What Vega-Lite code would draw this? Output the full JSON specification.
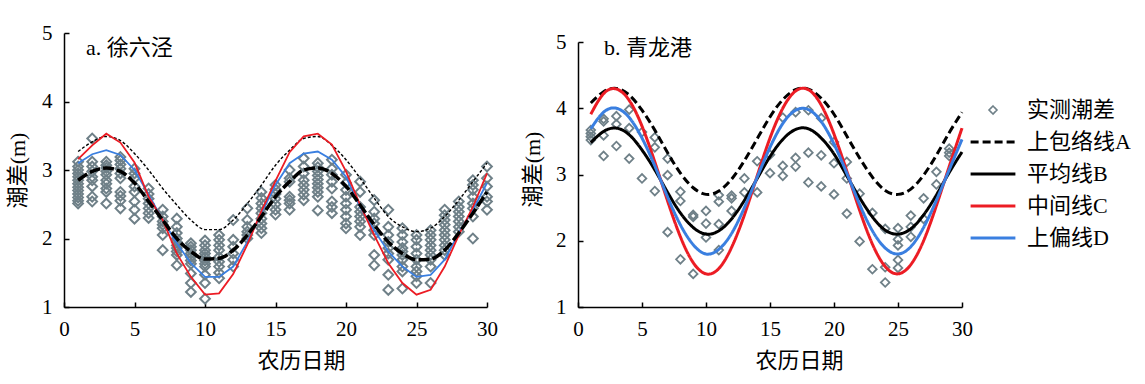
{
"$schema": "https://vega.github.io/schema/vega-lite/v6.json",
"background": "white",
"padding": {"left": 6, "top": 21, "right": 0, "bottom": 0},
"config": {
  "view": {"stroke": null},
  "axis": {"grid": false, "domainColor": "black", "tickColor": "black", "domainWidth": 1.5, "tickWidth": 1.5, "tickSize": -5,
    "labelFont": "Liberation Serif, Times New Roman, serif", "labelFontSize": 21, "labelColor": "black", "labelFlush": false,
    "titleFont": "Liberation Serif, Noto Sans CJK SC", "titleFontSize": 22, "titleFontWeight": "normal", "titleColor": "black"},
  "title": {"font": "Liberation Serif, Noto Sans CJK SC", "fontSize": 22, "fontWeight": "normal", "color": "black", "anchor": "start", "baseline": "middle", "frame": "group"}
},
"datasets": {
"ptsA": [
{"d":1,"v":3.12},{"d":1,"v":3.05},{"d":1,"v":3.0},{"d":1,"v":2.95},{"d":1,"v":2.9},{"d":1,"v":2.85},{"d":1,"v":2.8},{"d":1,"v":2.75},{"d":1,"v":2.7},{"d":1,"v":2.65},{"d":1,"v":2.6},{"d":1,"v":2.55},{"d":1,"v":2.51},
{"d":2,"v":3.46},{"d":2,"v":3.12},{"d":2,"v":3.05},{"d":2,"v":2.98},{"d":2,"v":2.9},{"d":2,"v":2.85},{"d":2,"v":2.76},{"d":2,"v":2.61},{"d":2,"v":2.54},
{"d":3,"v":3.12},{"d":3,"v":3.07},{"d":3,"v":3.03},{"d":3,"v":2.98},{"d":3,"v":2.93},{"d":3,"v":2.85},{"d":3,"v":2.8},{"d":3,"v":2.73},{"d":3,"v":2.68},{"d":3,"v":2.51},
{"d":4,"v":3.19},{"d":4,"v":3.14},{"d":4,"v":3.08},{"d":4,"v":3.02},{"d":4,"v":2.95},{"d":4,"v":2.88},{"d":4,"v":2.68},{"d":4,"v":2.62},{"d":4,"v":2.55},{"d":4,"v":2.44},
{"d":5,"v":3.02},{"d":5,"v":2.95},{"d":5,"v":2.88},{"d":5,"v":2.76},{"d":5,"v":2.68},{"d":5,"v":2.54},{"d":5,"v":2.42},{"d":5,"v":2.29},
{"d":6,"v":2.73},{"d":6,"v":2.65},{"d":6,"v":2.58},{"d":6,"v":2.51},{"d":6,"v":2.44},{"d":6,"v":2.37},{"d":6,"v":2.3},
{"d":7,"v":2.42},{"d":7,"v":2.32},{"d":7,"v":2.25},{"d":7,"v":2.2},{"d":7,"v":2.15},{"d":7,"v":2.05},{"d":7,"v":1.83},
{"d":8,"v":2.29},{"d":8,"v":2.17},{"d":8,"v":2.08},{"d":8,"v":2.0},{"d":8,"v":1.95},{"d":8,"v":1.9},{"d":8,"v":1.86},{"d":8,"v":1.81},{"d":8,"v":1.76},{"d":8,"v":1.61},
{"d":9,"v":1.93},{"d":9,"v":1.88},{"d":9,"v":1.83},{"d":9,"v":1.78},{"d":9,"v":1.73},{"d":9,"v":1.68},{"d":9,"v":1.63},{"d":9,"v":1.49},{"d":9,"v":1.35},{"d":9,"v":1.22},
{"d":10,"v":1.97},{"d":10,"v":1.9},{"d":10,"v":1.83},{"d":10,"v":1.78},{"d":10,"v":1.73},{"d":10,"v":1.68},{"d":10,"v":1.63},{"d":10,"v":1.59},{"d":10,"v":1.47},{"d":10,"v":1.35},{"d":10,"v":1.12},
{"d":11,"v":2.05},{"d":11,"v":1.98},{"d":11,"v":1.9},{"d":11,"v":1.83},{"d":11,"v":1.73},{"d":11,"v":1.66},{"d":11,"v":1.59},{"d":11,"v":1.5},{"d":11,"v":1.42},
{"d":12,"v":2.27},{"d":12,"v":1.98},{"d":12,"v":1.88},{"d":12,"v":1.78},{"d":12,"v":1.69},{"d":12,"v":1.59},
{"d":13,"v":2.44},{"d":13,"v":2.27},{"d":13,"v":2.17},{"d":13,"v":2.1},{"d":13,"v":2.05},{"d":13,"v":2.0},
{"d":14,"v":2.68},{"d":14,"v":2.59},{"d":14,"v":2.51},{"d":14,"v":2.44},{"d":14,"v":2.37},{"d":14,"v":2.29},{"d":14,"v":2.22},{"d":14,"v":2.15},{"d":14,"v":2.08},
{"d":15,"v":2.78},{"d":15,"v":2.72},{"d":15,"v":2.65},{"d":15,"v":2.58},{"d":15,"v":2.5},{"d":15,"v":2.42},{"d":15,"v":2.35},
{"d":16,"v":3.0},{"d":16,"v":2.88},{"d":16,"v":2.83},{"d":16,"v":2.61},{"d":16,"v":2.56},{"d":16,"v":2.51},{"d":16,"v":2.42},
{"d":17,"v":3.17},{"d":17,"v":3.05},{"d":17,"v":2.95},{"d":17,"v":2.85},{"d":17,"v":2.78},{"d":17,"v":2.71},{"d":17,"v":2.64},{"d":17,"v":2.56},
{"d":18,"v":3.1},{"d":18,"v":3.04},{"d":18,"v":2.98},{"d":18,"v":2.92},{"d":18,"v":2.86},{"d":18,"v":2.8},{"d":18,"v":2.74},{"d":18,"v":2.68},{"d":18,"v":2.61},{"d":18,"v":2.41},
{"d":19,"v":3.15},{"d":19,"v":3.02},{"d":19,"v":2.93},{"d":19,"v":2.83},{"d":19,"v":2.73},{"d":19,"v":2.54},{"d":19,"v":2.46},{"d":19,"v":2.37},
{"d":20,"v":2.93},{"d":20,"v":2.81},{"d":20,"v":2.71},{"d":20,"v":2.61},{"d":20,"v":2.51},{"d":20,"v":2.42},{"d":20,"v":2.32},{"d":20,"v":2.22},{"d":20,"v":2.15},
{"d":21,"v":2.83},{"d":21,"v":2.68},{"d":21,"v":2.46},{"d":21,"v":2.39},{"d":21,"v":2.32},{"d":21,"v":2.25},{"d":21,"v":2.17},{"d":21,"v":2.05},
{"d":22,"v":2.56},{"d":22,"v":2.39},{"d":22,"v":2.29},{"d":22,"v":2.22},{"d":22,"v":2.12},{"d":22,"v":2.05},{"d":22,"v":1.76},{"d":22,"v":1.61},
{"d":23,"v":2.42},{"d":23,"v":2.17},{"d":23,"v":2.05},{"d":23,"v":1.95},{"d":23,"v":1.86},{"d":23,"v":1.78},{"d":23,"v":1.69},{"d":23,"v":1.47},{"d":23,"v":1.25},
{"d":24,"v":2.15},{"d":24,"v":2.05},{"d":24,"v":1.95},{"d":24,"v":1.86},{"d":24,"v":1.81},{"d":24,"v":1.76},{"d":24,"v":1.69},{"d":24,"v":1.59},{"d":24,"v":1.52},{"d":24,"v":1.27},
{"d":25,"v":2.05},{"d":25,"v":1.98},{"d":25,"v":1.88},{"d":25,"v":1.78},{"d":25,"v":1.69},{"d":25,"v":1.59},{"d":25,"v":1.52},{"d":25,"v":1.45},{"d":25,"v":1.35},
{"d":26,"v":2.12},{"d":26,"v":2.05},{"d":26,"v":1.98},{"d":26,"v":1.9},{"d":26,"v":1.83},{"d":26,"v":1.76},{"d":26,"v":1.69},{"d":26,"v":1.59},{"d":26,"v":1.35},
{"d":27,"v":2.42},{"d":27,"v":2.34},{"d":27,"v":2.27},{"d":27,"v":2.2},{"d":27,"v":2.12},{"d":27,"v":2.05},{"d":27,"v":1.98},{"d":27,"v":1.9},{"d":27,"v":1.83},{"d":27,"v":1.76},
{"d":28,"v":2.54},{"d":28,"v":2.46},{"d":28,"v":2.39},{"d":28,"v":2.32},{"d":28,"v":2.25},{"d":28,"v":2.17},{"d":28,"v":2.1},
{"d":29,"v":2.85},{"d":29,"v":2.78},{"d":29,"v":2.71},{"d":29,"v":2.61},{"d":29,"v":2.51},{"d":29,"v":2.44},{"d":29,"v":2.32},{"d":29,"v":2.0},
{"d":30,"v":3.05},{"d":30,"v":2.88},{"d":30,"v":2.76},{"d":30,"v":2.61},{"d":30,"v":2.54},{"d":30,"v":2.42}
],
"curvesA": [
{"d":1,"A":3.27,"B":2.85,"C":3.16,"D":3.10},
{"d":2,"A":3.41,"B":2.98,"C":3.36,"D":3.23},
{"d":3,"A":3.49,"B":3.03,"C":3.53,"D":3.29},
{"d":4,"A":3.43,"B":2.98,"C":3.40,"D":3.22},
{"d":5,"A":3.24,"B":2.81,"C":3.11,"D":3.00},
{"d":6,"A":3.00,"B":2.54,"C":2.61,"D":2.64},
{"d":7,"A":2.73,"B":2.27,"C":2.27,"D":2.27},
{"d":8,"A":2.49,"B":2.00,"C":1.78,"D":1.93},
{"d":9,"A":2.27,"B":1.81,"C":1.44,"D":1.64},
{"d":10,"A":2.13,"B":1.70,"C":1.18,"D":1.44},
{"d":11,"A":2.13,"B":1.71,"C":1.20,"D":1.44},
{"d":12,"A":2.27,"B":1.83,"C":1.48,"D":1.59},
{"d":13,"A":2.51,"B":2.05,"C":1.91,"D":1.95},
{"d":14,"A":2.78,"B":2.32,"C":2.40,"D":2.37},
{"d":15,"A":3.07,"B":2.61,"C":2.84,"D":2.78},
{"d":16,"A":3.29,"B":2.83,"C":3.26,"D":3.10},
{"d":17,"A":3.46,"B":3.00,"C":3.49,"D":3.24},
{"d":18,"A":3.49,"B":3.03,"C":3.53,"D":3.27},
{"d":19,"A":3.36,"B":2.95,"C":3.37,"D":3.15},
{"d":20,"A":3.15,"B":2.76,"C":2.98,"D":2.90},
{"d":21,"A":2.88,"B":2.49,"C":2.49,"D":2.46},
{"d":22,"A":2.59,"B":2.20,"C":2.05,"D":2.12},
{"d":23,"A":2.32,"B":1.95,"C":1.64,"D":1.81},
{"d":24,"A":2.17,"B":1.78,"C":1.35,"D":1.59},
{"d":25,"A":2.10,"B":1.69,"C":1.18,"D":1.44},
{"d":26,"A":2.15,"B":1.70,"C":1.25,"D":1.47},
{"d":27,"A":2.32,"B":1.83,"C":1.59,"D":1.69},
{"d":28,"A":2.56,"B":2.08,"C":2.05,"D":2.08},
{"d":29,"A":2.83,"B":2.37,"C":2.46,"D":2.42},
{"d":30,"A":3.10,"B":2.68,"C":2.95,"D":2.81}
],
"ptsB": [
{"d":1,"v":3.67,"s":"实测潮差"},{"d":1,"v":3.62,"s":"实测潮差"},{"d":1,"v":3.57,"s":"实测潮差"},{"d":1,"v":3.52,"s":"实测潮差"},
{"d":2,"v":3.84,"s":"实测潮差"},{"d":2,"v":3.8,"s":"实测潮差"},{"d":2,"v":3.59,"s":"实测潮差"},{"d":2,"v":3.28,"s":"实测潮差"},
{"d":3,"v":3.88,"s":"实测潮差"},{"d":3,"v":3.76,"s":"实测潮差"},{"d":3,"v":3.43,"s":"实测潮差"},
{"d":4,"v":3.98,"s":"实测潮差"},{"d":4,"v":3.7,"s":"实测潮差"},{"d":4,"v":3.24,"s":"实测潮差"},
{"d":5,"v":3.64,"s":"实测潮差"},{"d":5,"v":2.94,"s":"实测潮差"},
{"d":6,"v":3.56,"s":"实测潮差"},{"d":6,"v":3.41,"s":"实测潮差"},{"d":6,"v":2.75,"s":"实测潮差"},
{"d":7,"v":3.24,"s":"实测潮差"},{"d":7,"v":2.99,"s":"实测潮差"},{"d":7,"v":2.13,"s":"实测潮差"},
{"d":8,"v":2.74,"s":"实测潮差"},{"d":8,"v":2.6,"s":"实测潮差"},{"d":8,"v":1.72,"s":"实测潮差"},
{"d":9,"v":2.39,"s":"实测潮差"},{"d":9,"v":2.36,"s":"实测潮差"},{"d":9,"v":1.5,"s":"实测潮差"},
{"d":10,"v":2.45,"s":"实测潮差"},{"d":10,"v":2.26,"s":"实测潮差"},{"d":10,"v":2.05,"s":"实测潮差"},
{"d":11,"v":2.69,"s":"实测潮差"},{"d":11,"v":2.59,"s":"实测潮差"},{"d":11,"v":2.25,"s":"实测潮差"},{"d":11,"v":1.86,"s":"实测潮差"},
{"d":12,"v":2.68,"s":"实测潮差"},{"d":12,"v":2.64,"s":"实测潮差"},{"d":12,"v":2.45,"s":"实测潮差"},
{"d":13,"v":2.94,"s":"实测潮差"},{"d":13,"v":2.73,"s":"实测潮差"},
{"d":14,"v":3.2,"s":"实测潮差"},{"d":14,"v":2.73,"s":"实测潮差"},
{"d":15,"v":3.3,"s":"实测潮差"},{"d":15,"v":3.02,"s":"实测潮差"},
{"d":16,"v":3.86,"s":"实测潮差"},{"d":16,"v":3.13,"s":"实测潮差"},{"d":16,"v":2.98,"s":"实测潮差"},
{"d":17,"v":3.94,"s":"实测潮差"},{"d":17,"v":3.25,"s":"实测潮差"},{"d":17,"v":3.12,"s":"实测潮差"},
{"d":18,"v":3.97,"s":"实测潮差"},{"d":18,"v":3.33,"s":"实测潮差"},{"d":18,"v":2.88,"s":"实测潮差"},
{"d":19,"v":3.85,"s":"实测潮差"},{"d":19,"v":3.29,"s":"实测潮差"},{"d":19,"v":2.82,"s":"实测潮差"},
{"d":20,"v":3.49,"s":"实测潮差"},{"d":20,"v":3.17,"s":"实测潮差"},{"d":20,"v":2.7,"s":"实测潮差"},
{"d":21,"v":3.19,"s":"实测潮差"},{"d":21,"v":2.94,"s":"实测潮差"},{"d":21,"v":2.41,"s":"实测潮差"},
{"d":22,"v":2.71,"s":"实测潮差"},{"d":22,"v":1.99,"s":"实测潮差"},
{"d":23,"v":2.42,"s":"实测潮差"},{"d":23,"v":1.57,"s":"实测潮差"},
{"d":24,"v":2.18,"s":"实测潮差"},{"d":24,"v":1.6,"s":"实测潮差"},{"d":24,"v":1.37,"s":"实测潮差"},
{"d":25,"v":2.19,"s":"实测潮差"},{"d":25,"v":2.02,"s":"实测潮差"},{"d":25,"v":1.93,"s":"实测潮差"},{"d":25,"v":1.71,"s":"实测潮差"},{"d":25,"v":1.59,"s":"实测潮差"},
{"d":26,"v":2.38,"s":"实测潮差"},{"d":26,"v":2.21,"s":"实测潮差"},{"d":26,"v":2.06,"s":"实测潮差"},
{"d":27,"v":2.64,"s":"实测潮差"},{"d":27,"v":2.33,"s":"实测潮差"},
{"d":28,"v":3.04,"s":"实测潮差"},{"d":28,"v":2.85,"s":"实测潮差"},
{"d":29,"v":3.39,"s":"实测潮差"},{"d":29,"v":3.33,"s":"实测潮差"},{"d":29,"v":3.28,"s":"实测潮差"}
],
"curvesB": [
{"d":1,"上包络线A":4.08,"平均线B":3.48,"中间线C":3.91,"上偏线D":3.69},
{"d":2,"上包络线A":4.25,"平均线B":3.65,"中间线C":4.22,"上偏线D":3.94},
{"d":3,"上包络线A":4.30,"平均线B":3.70,"中间线C":4.29,"上偏线D":4.00},
{"d":4,"上包络线A":4.20,"平均线B":3.60,"中间线C":4.12,"上偏线D":3.86},
{"d":5,"上包络线A":3.97,"平均线B":3.37,"中间线C":3.73,"上偏线D":3.55},
{"d":6,"上包络线A":3.67,"平均线B":3.07,"中间线C":3.19,"上偏线D":3.13},
{"d":7,"上包络线A":3.33,"平均线B":2.73,"中间线C":2.60,"上偏线D":2.66},
{"d":8,"上包络线A":3.02,"平均线B":2.42,"中间线C":2.06,"上偏线D":2.24},
{"d":9,"上包络线A":2.80,"平均线B":2.20,"中间线C":1.67,"上偏线D":1.94},
{"d":10,"上包络线A":2.70,"平均线B":2.10,"中间线C":1.50,"上偏线D":1.80},
{"d":11,"上包络线A":2.75,"平均线B":2.15,"中间线C":1.58,"上偏线D":1.87},
{"d":12,"上包络线A":2.93,"平均线B":2.33,"中间线C":1.90,"上偏线D":2.11},
{"d":13,"上包络线A":3.21,"平均线B":2.61,"中间线C":2.39,"上偏线D":2.50},
{"d":14,"上包络线A":3.54,"平均线B":2.94,"中间线C":2.98,"上偏线D":2.96},
{"d":15,"上包络线A":3.87,"平均线B":3.27,"中间线C":3.55,"上偏线D":3.41},
{"d":16,"上包络线A":4.13,"平均线B":3.53,"中间线C":4.00,"上偏线D":3.77},
{"d":17,"上包络线A":4.28,"平均线B":3.68,"中间线C":4.26,"上偏线D":3.97},
{"d":18,"上包络线A":4.29,"平均线B":3.69,"中间线C":4.28,"上偏线D":3.98},
{"d":19,"上包络线A":4.15,"平均线B":3.55,"中间线C":4.05,"上偏线D":3.80},
{"d":20,"上包络线A":3.91,"平均线B":3.31,"中间线C":3.61,"上偏线D":3.46},
{"d":21,"上包络线A":3.58,"平均线B":2.98,"中间线C":3.05,"上偏线D":3.02},
{"d":22,"上包络线A":3.25,"平均线B":2.65,"中间线C":2.46,"上偏线D":2.55},
{"d":23,"上包络线A":2.96,"平均线B":2.36,"中间线C":1.95,"上偏线D":2.15},
{"d":24,"上包络线A":2.76,"平均线B":2.16,"中间线C":1.61,"上偏线D":1.89},
{"d":25,"上包络线A":2.70,"平均线B":2.10,"中间线C":1.50,"上偏线D":1.80},
{"d":26,"上包络线A":2.78,"平均线B":2.18,"中间线C":1.64,"上偏线D":1.91},
{"d":27,"上包络线A":2.99,"平均线B":2.39,"中间线C":2.00,"上偏线D":2.20},
{"d":28,"上包络线A":3.29,"平均线B":2.69,"中间线C":2.53,"上偏线D":2.61},
{"d":29,"上包络线A":3.63,"平均线B":3.03,"中间线C":3.12,"上偏线D":3.07},
{"d":30,"上包络线A":3.94,"平均线B":3.34,"中间线C":3.70,"上偏线D":3.53}
]
},
"spacing": 23,
"hconcat": [
{
  "spacing": 0,
  "vconcat": [
    {"width": 423, "height": 1, "data": {"values": []}, "mark": {"type": "point", "opacity": 0}},
    {
      "width": 423, "height": 274,
      "title": {"text": "a. 徐六泾", "offset": -38, "dx": 22},
      "encoding": {
        "x": {"field": "d", "type": "quantitative", "scale": {"domain": [0, 30], "nice": false}, "axis": {"values": [0,5,10,15,20,25,30], "title": "农历日期", "labelPadding": 16, "titleX": 237, "titleY": 53, "titleBaseline": "middle"}},
        "y": {"field": "v", "type": "quantitative", "scale": {"domain": [1, 5], "nice": false, "zero": false}, "axis": {"values": [1,2,3,4,5], "title": "潮差(m)", "labelPadding": 17, "titleX": -47, "titleY": 137, "titleBaseline": "middle", "titleAlign": "center"}}
      },
      "layer": [
        {"data": {"name": "ptsA"}, "mark": {"type": "point", "shape": "diamond", "filled": false, "size": 95, "strokeWidth": 2, "color": "#6f8088", "opacity": 1}},
        {"data": {"name": "curvesA"}, "mark": {"type": "line", "color": "black", "strokeWidth": 1.4, "strokeDash": [3, 2], "interpolate": "monotone"}, "encoding": {"y": {"field": "A", "type": "quantitative"}}},
        {"data": {"name": "curvesA"}, "mark": {"type": "line", "color": "#3a7fe0", "strokeWidth": 1.8}, "encoding": {"y": {"field": "D", "type": "quantitative"}}},
        {"data": {"name": "curvesA"}, "mark": {"type": "line", "color": "#ec1c24", "strokeWidth": 1.8}, "encoding": {"y": {"field": "C", "type": "quantitative"}}},
        {"data": {"name": "curvesA"}, "mark": {"type": "line", "color": "black", "strokeWidth": 3.5, "strokeDash": [11, 3], "interpolate": "monotone"}, "encoding": {"y": {"field": "B", "type": "quantitative"}}}
      ]
    }
  ]
},
{
  "spacing": 0,
  "vconcat": [
    {"width": 384, "height": 10, "data": {"values": []}, "mark": {"type": "point", "opacity": 0}},
    {
      "width": 384, "height": 265,
      "title": {"text": "b. 青龙港", "offset": -29, "dx": 26},
      "encoding": {
        "x": {"field": "d", "type": "quantitative", "scale": {"domain": [0, 30], "nice": false}, "axis": {"values": [0,5,10,15,20,25,30], "title": "农历日期", "labelPadding": 16, "titleX": 221, "titleY": 53, "titleBaseline": "middle"}},
        "y": {"field": "v", "type": "quantitative", "scale": {"domain": [1, 5], "nice": false, "zero": false}, "axis": {"values": [1,2,3,4,5], "title": "潮差(m)", "labelPadding": 17, "titleX": -46, "titleY": 127, "titleBaseline": "middle", "titleAlign": "center"}}
      },
      "layer": [
        {"data": {"name": "ptsB"}, "mark": {"type": "point", "filled": false, "size": 75, "strokeWidth": 1.8, "opacity": 1},
         "encoding": {
           "color": {"field": "s", "type": "nominal", "scale": {"domain": ["实测潮差","上包络线A","平均线B","中间线C","上偏线D"], "range": ["#6f8088","#000000","#000000","#ec1c24","#3a7fe0"]},
             "legend": {"title": null, "orient": "none", "legendX": 918, "legendY": 78, "labelFontSize": 22, "labelFont": "Liberation Serif, Noto Sans CJK SC", "labelColor": "black", "symbolSize": 64, "labelOffset": 23, "rowPadding": 10, "padding": 0, "labelLimit": 300}},
           "shape": {"field": "s", "type": "nominal", "scale": {"domain": ["实测潮差","上包络线A","平均线B","中间线C","上偏线D"], "range": ["diamond","M-5.6,0H5.6","M-5.6,0H5.6","M-5.6,0H5.6","M-5.6,0H5.6"]},
             "legend": {"title": null, "orient": "none", "legendX": 918, "legendY": 78, "labelFontSize": 22, "labelFont": "Liberation Serif, Noto Sans CJK SC", "labelColor": "black", "symbolSize": 64, "labelOffset": 23, "rowPadding": 10, "padding": 0, "labelLimit": 300}}
         }},
        {"data": {"name": "curvesB"},
         "transform": [{"fold": ["上包络线A","平均线B","中间线C","上偏线D"], "as": ["s", "v"]}],
         "mark": {"type": "line", "interpolate": "natural"},
         "encoding": {
           "color": {"field": "s", "type": "nominal", "scale": {"domain": ["实测潮差","上包络线A","平均线B","中间线C","上偏线D"], "range": ["#6f8088","#000000","#000000","#ec1c24","#3a7fe0"]},
             "legend": {"title": null, "orient": "none", "legendX": 918, "legendY": 78, "labelFontSize": 22, "labelFont": "Liberation Serif, Noto Sans CJK SC", "labelColor": "black", "symbolSize": 64, "labelOffset": 23, "rowPadding": 10, "padding": 0, "labelLimit": 300}},
           "strokeDash": {"field": "s", "type": "nominal", "scale": {"domain": ["实测潮差","上包络线A","平均线B","中间线C","上偏线D"], "range": [[1,0],[8,4],[1,0],[1,0],[1,0]]},
             "legend": {"title": null, "orient": "none", "legendX": 918, "legendY": 78, "labelFontSize": 22, "labelFont": "Liberation Serif, Noto Sans CJK SC", "labelColor": "black", "symbolSize": 64, "labelOffset": 23, "rowPadding": 10, "padding": 0, "labelLimit": 300}},
           "strokeWidth": {"field": "s", "type": "nominal", "scale": {"type": "ordinal", "domain": ["实测潮差","上包络线A","平均线B","中间线C","上偏线D"], "range": [1.6,3,3,3,3]},
             "legend": {"title": null, "orient": "none", "legendX": 918, "legendY": 78, "labelFontSize": 22, "labelFont": "Liberation Serif, Noto Sans CJK SC", "labelColor": "black", "symbolSize": 64, "labelOffset": 23, "rowPadding": 10, "padding": 0, "labelLimit": 300}}
         }}
      ]
    }
  ]
}
]
}
